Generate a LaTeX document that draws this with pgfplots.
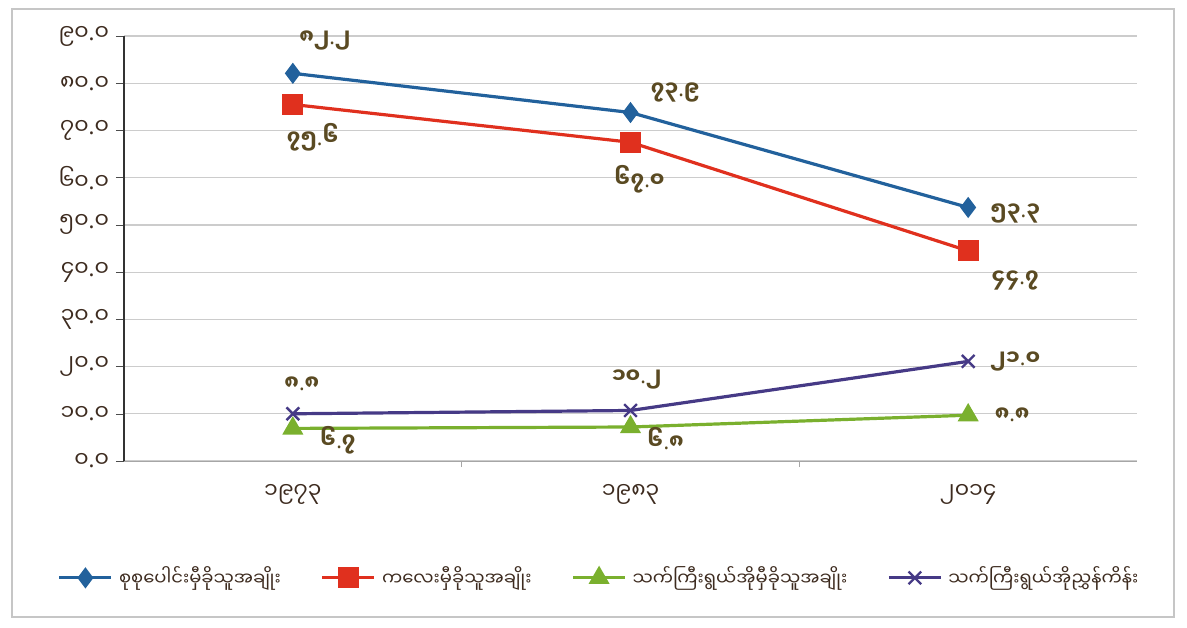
\documentclass[border=0pt]{standalone}
\usepackage{fontspec}
\usepackage{pgfplots}
\usepackage{pgfplotstable}
\pgfplotsset{compat=1.18}
\newfontfamily\mm[Script=Myanmar]{Noto Sans Myanmar UI}
\newfontfamily\dotfont{Noto Sans}
\newcommand\dt{{\dotfont.}}

\definecolor{cblue}{HTML}{22619C}
\definecolor{cred}{HTML}{E0301E}
\definecolor{cgreen}{HTML}{7AB02E}
\definecolor{cpurple}{HTML}{463A86}
\definecolor{labtxt}{HTML}{5A4A22}
\definecolor{ticktxt}{HTML}{3D2B1F}

% x y label dx dy  (dx, dy: label offset in pt)
\pgfplotstableread{
x y lab dx dy
0 82.1 ၈၂\dt{}၂ 16 16.5
1 73.8 ၇၃\dt{}၉ 22.5 10
2 53.7 ၅၃\dt{}၃ 23.5 -3
}\total
\pgfplotstableread{
x y lab dx dy
0 75.5 ၇၅\dt{}၆ 10 -16.5
1 67.5 ၆၇\dt{}၀ 4.5 -18.5
2 44.5 ၄၄\dt{}၇ 23.5 -15
}\child
\pgfplotstableread{
x y lab dx dy
0 6.9 ၆\dt{}၇ 22.5 -6
1 7.2 ၆\dt{}၈ 17.5 -6
2 9.7 ၈\dt{}၈ 22 0
}\old
\pgfplotstableread{
x y lab dx dy
0 10.0 ၈\dt{}၈ 4.5 15
1 10.7 ၁၀\dt{}၂ 3 15.5
2 21.1 ၂၁\dt{}၀ 23.5 0
}\ageing

\begin{document}
\begin{tikzpicture}
\path[use as bounding box] (0,0) rectangle (593.5pt,313.5pt);
\draw[gray!45, line width=0.6pt] (6pt,5pt) rectangle (587pt,309pt);
\begin{axis}[
    at={(62pt,83pt)}, anchor=south west,
    scale only axis, width=506.5pt, height=212.5pt,
    xmin=-0.5, xmax=2.5, ymin=0, ymax=90,
    axis x line*=bottom, axis y line*=left,
    x axis line style={draw=gray!70},
    y axis line style={draw=black!80, line width=0.7pt},
    xtick={0,1,2}, xticklabels={၁၉၇၃,၁၉၈၃,၂၀၁၄},
    ytick={0,10,...,90},
    yticklabels={၀\dt{}၀,၁၀\dt{}၀,၂၀\dt{}၀,၃၀\dt{}၀,၄၀\dt{}၀,၅၀\dt{}၀,၆၀\dt{}၀,၇၀\dt{}၀,၈၀\dt{}၀,၉၀\dt{}၀},
    ymajorgrids, grid style={gray!40, line width=0.6pt},
    major x tick style={draw=none},
    minor xtick={0.5,1.5}, minor x tick style={draw=gray!70},
    tick align=outside, major tick length=4pt, minor tick length=3pt,
    ytick style={draw=black!70},
    tick label style={font=\mm\fontsize{11}{12}\selectfont, text=ticktxt},
    xticklabel style={yshift=-4pt},
    point meta=explicit symbolic,
    nodes near coords,
    visualization depends on={\thisrow{dx}\as\dx},
    visualization depends on={\thisrow{dy}\as\dy},
    every node near coord/.style={anchor=center, xshift=\dx pt, yshift=\dy pt,
        font=\mm\bfseries\fontsize{10.5}{12}\selectfont, text=labtxt},
    every axis plot/.append style={line width=1.6pt},
    legend style={at={(0.47,-0.275)}, anchor=center, draw=none, fill=none,
        legend columns=4, font=\mm\fontsize{9}{11}\selectfont, text=ticktxt,
        inner sep=0.5pt,
        /tikz/every odd column/.append style={column sep=1pt},
        /tikz/every even column/.append style={column sep=18pt}},
    legend image code/.code={\draw[mark repeat=2,mark phase=2,#1]
        plot coordinates {(0pt,0pt) (13pt,0pt) (26pt,0pt)};},
]
\addplot[cblue, mark=diamond*, mark size=4pt] table[x=x, y=y, meta=lab] {\total};
\addlegendentry{စုစုပေါင်းမှီခိုသူအချိုး}
\addplot[cred, mark=square*, mark size=4.5pt] table[x=x, y=y, meta=lab] {\child};
\addlegendentry{ကလေးမှီခိုသူအချိုး}
\addplot[cgreen, mark=triangle*, mark size=4.5pt] table[x=x, y=y, meta=lab] {\old};
\addlegendentry{သက်ကြီးရွယ်အိုမှီခိုသူအချိုး}
\addplot[cpurple, mark=x, mark size=4.5pt, mark options={line width=1.2pt}] table[x=x, y=y, meta=lab] {\ageing};
\addlegendentry{သက်ကြီးရွယ်အိုညွှန်ကိန်း}
\end{axis}
\end{tikzpicture}
\end{document}
